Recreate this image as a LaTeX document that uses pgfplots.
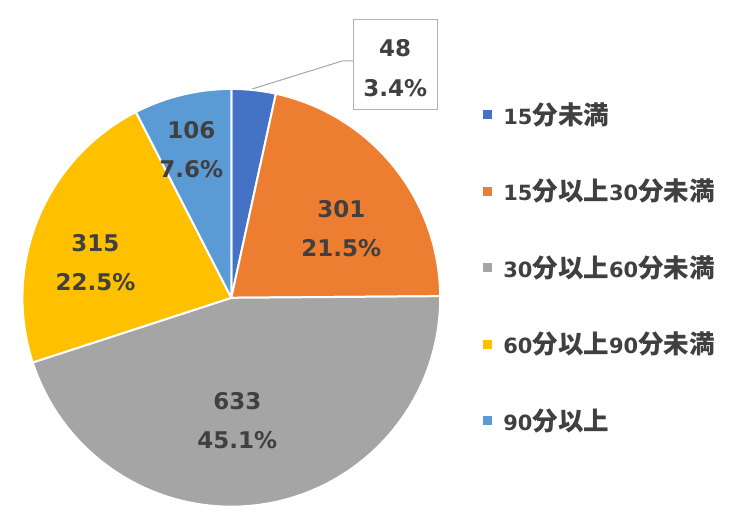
\documentclass[border=0pt]{standalone}
\usepackage{pgfplots}
\usepackage{pgfplotstable}
\pgfplotsset{compat=1.18}
\usepackage{fontspec}
\setmainfont{DejaVu Sans}
\newfontfamily\jp{Noto Sans CJK JP Bold}

\definecolor{c1}{HTML}{4472C4}
\definecolor{c2}{HTML}{ED7D31}
\definecolor{c3}{HTML}{A5A5A5}
\definecolor{c4}{HTML}{FFC000}
\definecolor{c5}{HTML}{5B9BD5}
\definecolor{txt}{HTML}{404040}

% commute time, number of people
\pgfplotstableread{
v   col
48  c1
301 c2
633 c3
315 c4
106 c5
}\pietable

\newcommand\fen{{\jp\fontsize{25.5}{24}\selectfont 分}}
\newcommand\ijo{{\jp\fontsize{25.5}{24}\selectfont 以上}}
\newcommand\miman{{\jp\fontsize{25.5}{24}\selectfont 未満}}

\begin{document}
\begin{tikzpicture}
\begin{axis}[
  width=740pt, height=516pt, scale only axis,
  xmin=0, xmax=740, ymin=0, ymax=516,
  hide axis, clip=false,
]
\path (axis cs:0,0) rectangle (axis cs:740,516);
\pgfplotsextra{
  \gdef\tot{0}
  \foreach \i in {0,...,4}{
    \pgfplotstablegetelem{\i}{v}\of\pietable
    \pgfmathsetmacro\t{\tot+\pgfplotsretval}\xdef\tot{\t}
  }
  \gdef\cum{0}
  \foreach \i in {0,...,4}{
    \pgfplotstablegetelem{\i}{v}\of\pietable \let\val\pgfplotsretval
    \pgfplotstablegetelem{\i}{col}\of\pietable \let\col\pgfplotsretval
    \pgfmathsetmacro\a{90-\cum/\tot*360}
    \pgfmathsetmacro\b{90-(\cum+\val)/\tot*360}
    \fill[fill=\col, draw=white, line width=2pt, line join=round]
      (axis cs:231,218) -- ++(\a:209pt) arc[start angle=\a, end angle=\b, radius=209pt] -- cycle;
    \pgfmathsetmacro\n{\cum+\val}\xdef\cum{\n}
    \pgfmathsetmacro\ly{401-\i*76.5}
    \fill[\col] (axis cs:487,\ly) ++(-4.5pt,-4.5pt) rectangle ++(9pt,9pt);
  }
}
% legend labels
\tikzset{leg/.style={anchor=west, text=txt, font=\bfseries\fontsize{21}{24}\selectfont, inner sep=0pt}}
\node[leg] at (axis cs:503,401) {15\fen\miman};
\node[leg] at (axis cs:503,324.5) {15\fen\ijo 30\fen\miman};
\node[leg] at (axis cs:503,248) {30\fen\ijo 60\fen\miman};
\node[leg] at (axis cs:503,171.5) {60\fen\ijo 90\fen\miman};
\node[leg] at (axis cs:503,95) {90\fen\ijo};
% data labels
\tikzset{lab/.style={text=txt, font=\bfseries\fontsize{23}{24}\selectfont, inner sep=0pt}}
\node[lab] at (axis cs:341,307) {301};
\node[lab] at (axis cs:341,268) {21.5\%};
\node[lab] at (axis cs:237,115) {633};
\node[lab] at (axis cs:237,76) {45.1\%};
\node[lab] at (axis cs:95,273) {315};
\node[lab] at (axis cs:95,234) {22.5\%};
\node[lab] at (axis cs:191,386) {106};
\node[lab] at (axis cs:191,347) {7.6\%};
\draw[color=black!35, line width=1pt] (axis cs:252,427) -- (axis cs:342,455) -- (axis cs:353,455);
\draw[color=black!30, line width=1pt, fill=white] (axis cs:353,406) rectangle (axis cs:437,496);
\node[lab] at (axis cs:395,468) {48};
\node[lab] at (axis cs:395,428) {3.4\%};
\end{axis}
\end{tikzpicture}
\end{document}
